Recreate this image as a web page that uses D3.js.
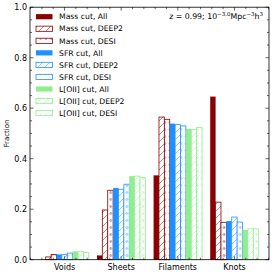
<!DOCTYPE html>
<html>
<head>
<meta charset="utf-8">
<script src="https://cdn.jsdelivr.net/npm/d3@7"></script>
<style>
  body { margin: 0; background: #fff; }
  svg { font-family: "DejaVu Sans", sans-serif; }
</style>
</head>
<body>
<svg id="plot" width="274" height="275"></svg>
<script>
const environments = ['Voids', 'Sheets', 'Filaments', 'Knots']
const seriesNames = ['Mass cut, All', 'Mass cut, DEEP2', 'Mass cut, DESI',
                     'SFR cut, All', 'SFR cut, DEEP2', 'SFR cut, DESI',
                     'L[OII] cut, All', 'L[OII] cut, DEEP2', 'L[OII] cut, DESI']
const massAll   = [0.001, 0.017, 0.334, 0.646]
const massDeep2 = [0.011, 0.197, 0.565, 0.228]
const massDesi  = [0.021, 0.275, 0.556, 0.148]
const sfrAll    = [0.021, 0.284, 0.539, 0.153]
const sfrDeep2  = [0.021, 0.279, 0.535, 0.169]
const sfrDesi   = [0.026, 0.299, 0.530, 0.149]
const oiiAll    = [0.033, 0.331, 0.518, 0.118]
const oiiDeep2  = [0.033, 0.331, 0.515, 0.122]
const oiiDesi   = [0.028, 0.325, 0.524, 0.122]
const yTicks = [0.0, 0.2, 0.4, 0.6, 0.8, 1.0]

const colors = ['#8b0000', '#1e90ff', '#90ee90']
const styles = ['solid', 'hatch', 'dots']
const allSeries = [massAll, massDeep2, massDesi, sfrAll, sfrDeep2, sfrDesi, oiiAll, oiiDeep2, oiiDesi]

const plot = d3.select('#plot')
const padL = 30, padR = 269, padT = 7.2, padB = 259.7

const xScale = d3.scaleLinear().domain([-0.61, 3.61]).range([padL, padR])
const yScale = d3.scaleLinear().domain([0, 1]).range([padB, padT])

const barW = 0.0951
const startOff = -0.428

// patterns
const defs = plot.append('defs')
colors.forEach((c, i) => {
  const h = defs.append('pattern').attr('id', 'hatch' + i)
    .attr('patternUnits', 'userSpaceOnUse').attr('width', 7).attr('height', 7)
  h.append('rect').attr('width', 7).attr('height', 7).attr('fill', 'white')
  h.append('path').attr('d', 'M-1,8 L8,-1 M-4.5,4.5 L4.5,-4.5 M2.5,11.5 L11.5,2.5')
    .attr('stroke', c).attr('stroke-width', 0.6).attr('opacity', 0.8)
  const d = defs.append('pattern').attr('id', 'dots' + i)
    .attr('patternUnits', 'userSpaceOnUse').attr('width', 5.4).attr('height', 7)
  d.append('rect').attr('width', 5.4).attr('height', 7).attr('fill', 'white')
  d.append('circle').attr('cx', 2.7).attr('cy', 3.5).attr('r', 0.9)
    .attr('fill', 'none').attr('stroke', c).attr('stroke-width', 0.6).attr('opacity', 0.8)
})

function fillFor(k) {
  const c = Math.floor(k / 3), s = styles[k % 3]
  if (s === 'solid') return colors[c]
  return `url(#${s}${c})`
}

// bars
allSeries.forEach((vals, k) => {
  const c = colors[Math.floor(k / 3)]
  const solid = k % 3 === 0
  plot.append('g').selectAll('rect')
    .data(vals)
    .join('rect')
    .attr('x', (d, i) => xScale(i + startOff + k * barW))
    .attr('width', xScale(barW) - xScale(0))
    .attr('y', d => yScale(d))
    .attr('height', d => yScale(0) - yScale(d))
    .attr('fill', fillFor(k))
    .attr('stroke', solid ? 'none' : c)
    .attr('stroke-width', 0.8)
})

// frame
plot.append('rect')
  .attr('x', padL).attr('y', padT)
  .attr('width', padR - padL).attr('height', padB - padT)
  .attr('fill', 'none').attr('stroke', 'black').attr('stroke-width', 0.8)

// y ticks, both sides
const yMinor = d3.range(0, 1.0001, 0.05)
yMinor.forEach(v => {
  const major = yTicks.some(t => Math.abs(t - v) < 1e-6)
  const len = major ? 3.5 : 2
  plot.append('line').attr('x1', padL).attr('x2', padL + len)
    .attr('y1', yScale(v)).attr('y2', yScale(v)).attr('stroke', 'black').attr('stroke-width', 0.6)
  plot.append('line').attr('x1', padR).attr('x2', padR - len)
    .attr('y1', yScale(v)).attr('y2', yScale(v)).attr('stroke', 'black').attr('stroke-width', 0.6)
})
plot.append('g').selectAll('text')
  .data(yTicks)
  .join('text')
  .attr('x', padL - 3)
  .attr('y', d => yScale(d) + 3)
  .attr('text-anchor', 'end')
  .attr('font-size', 8)
  .text(d => d3.format('.1f')(d))

// x ticks top & bottom
const xMinor = d3.range(-0.6, 3.61, 0.2)
xMinor.forEach(v => {
  const major = Math.abs(v - Math.round(v)) < 1e-6
  const len = major ? 3.5 : 2
  plot.append('line').attr('x1', xScale(v)).attr('x2', xScale(v))
    .attr('y1', padT).attr('y2', padT + len).attr('stroke', 'black').attr('stroke-width', 0.6)
  plot.append('line').attr('x1', xScale(v)).attr('x2', xScale(v))
    .attr('y1', padB).attr('y2', padB - len).attr('stroke', 'black').attr('stroke-width', 0.6)
})
plot.append('g').selectAll('text')
  .data(environments)
  .join('text')
  .attr('x', (d, i) => xScale(i))
  .attr('y', padB + 10)
  .attr('text-anchor', 'middle')
  .attr('font-size', 8)
  .text(d => d)

// y label
plot.append('text')
  .attr('transform', `translate(9, ${(padT + padB) / 2}) rotate(-90)`)
  .attr('text-anchor', 'middle')
  .attr('font-size', 7)
  .text('Fraction')

// annotation
const ann = plot.append('text')
  .attr('x', 263).attr('y', 19)
  .attr('text-anchor', 'end')
  .attr('font-size', 7.8)
ann.append('tspan').text('z = 0.99; 10')
ann.append('tspan').attr('dy', -3.2).attr('font-size', 5.5).text('\u22123.0')
ann.append('tspan').attr('dy', 3.2).text('Mpc')
ann.append('tspan').attr('dy', -3.2).attr('font-size', 5.5).text('\u22123')
ann.append('tspan').attr('dy', 3.2).text('h')
ann.append('tspan').attr('dy', -3.2).attr('font-size', 5.5).text('3')

// legend
const legend = plot.append('g')
seriesNames.forEach((name, k) => {
  const y = 16.7 + k * 12.05
  const c = colors[Math.floor(k / 3)]
  legend.append('rect')
    .attr('x', 36).attr('y', y - 2.6).attr('width', 16.5).attr('height', 5.2)
    .attr('fill', fillFor(k))
    .attr('stroke', k % 3 === 0 ? 'none' : c).attr('stroke-width', 0.8)
  legend.append('text')
    .attr('x', 59).attr('y', y + 2.7)
    .attr('font-size', 7.7)
    .text(name)
})
</script>
</body>
</html>
